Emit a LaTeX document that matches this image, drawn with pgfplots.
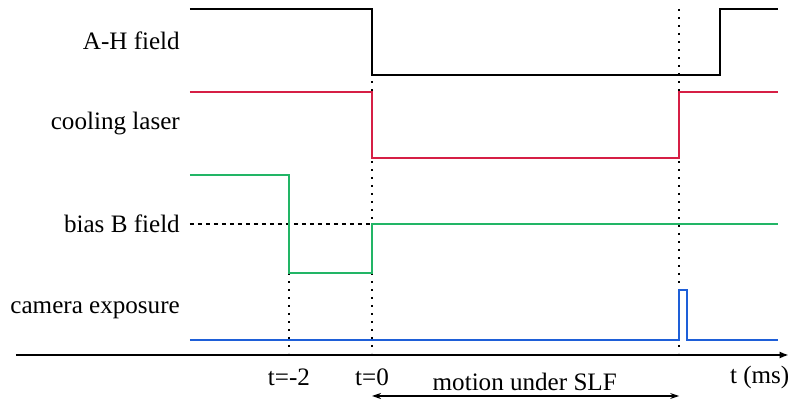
\documentclass[border=0pt]{standalone}
\usepackage{pgfplots}
\pgfplotsset{compat=1.18}
\usepackage{fontspec}
\setmainfont{Liberation Serif}
\usetikzlibrary{arrows.meta}
\definecolor{sigred}{RGB}{214,31,69}
\definecolor{siggreen}{RGB}{34,181,102}
\definecolor{sigblue}{RGB}{30,95,216}
\begin{document}%
\begin{tikzpicture}[font=\fontsize{25.1}{30}\selectfont]%
\begin{axis}[
  scale only axis, width=790pt, height=403pt,
  xmin=-8.964, xmax=10.072, ymin=0, ymax=403,
  hide axis, clip=false,
]
% time axis
\addplot[black, line width=1.6pt, -{Latex[length=9pt,width=7pt]}] coordinates {(-8.58,48) (10.04,48)};
% vertical dotted guides
\addplot[black, line width=1.6pt, dash pattern=on 1.6pt off 6.4pt] coordinates {(-2,130) (-2,50)};
\addplot[black, line width=1.6pt, dash pattern=on 1.6pt off 6.4pt] coordinates {(0,394) (0,50)};
\addplot[black, line width=1.6pt, dash pattern=on 1.6pt off 6.4pt] coordinates {(7.4,394) (7.4,50)};
% bias reference dashed line
\addplot[black, line width=1.2pt, dash pattern=on 4pt off 4pt] coordinates {(-4.386,179) (0,179)};
% A-H field
\addplot[black, line width=1.6pt] coordinates {(-4.386,394) (0,394) (0,328) (8.386,328) (8.386,394) (9.783,394)};
% cooling laser
\addplot[sigred, line width=1.6pt] coordinates {(-4.386,311) (0,311) (0,245) (7.4,245) (7.4,311) (9.783,311)};
% bias B field
\addplot[siggreen, line width=1.6pt] coordinates {(-4.386,228) (-2,228) (-2,130) (0,130) (0,179) (9.783,179)};
% camera exposure
\addplot[sigblue, line width=1.6pt] coordinates {(-4.386,63) (7.4,63) (7.4,113) (7.59,113) (7.59,63) (9.783,63)};
% labels
\node[anchor=east, inner sep=0pt] at (axis cs:-4.627,362) {A-H field};
\node[anchor=east, inner sep=0pt] at (axis cs:-4.627,279) {cooling laser};
\node[anchor=east, inner sep=0pt] at (axis cs:-4.627,179) {bias B field};
\node[anchor=east, inner sep=0pt] at (axis cs:-4.627,93) {camera exposure};
\node[inner sep=0pt] at (axis cs:-2,26) {t=-2};
\node[inner sep=0pt] at (axis cs:0,26) {t=0};
\node[anchor=east, inner sep=0pt] at (axis cs:10.06,26) {t (ms)};
\node[inner sep=0pt] at (axis cs:3.68,21) {motion under SLF};
\addplot[black, line width=1.1pt, {Stealth[length=9pt,width=6pt]}-{Stealth[length=9pt,width=6pt]}] coordinates {(0,7) (7.4,7)};
\end{axis}
\pgfresetboundingbox
\path (current axis.south west) rectangle (current axis.north east);
\end{tikzpicture}%
\end{document}
